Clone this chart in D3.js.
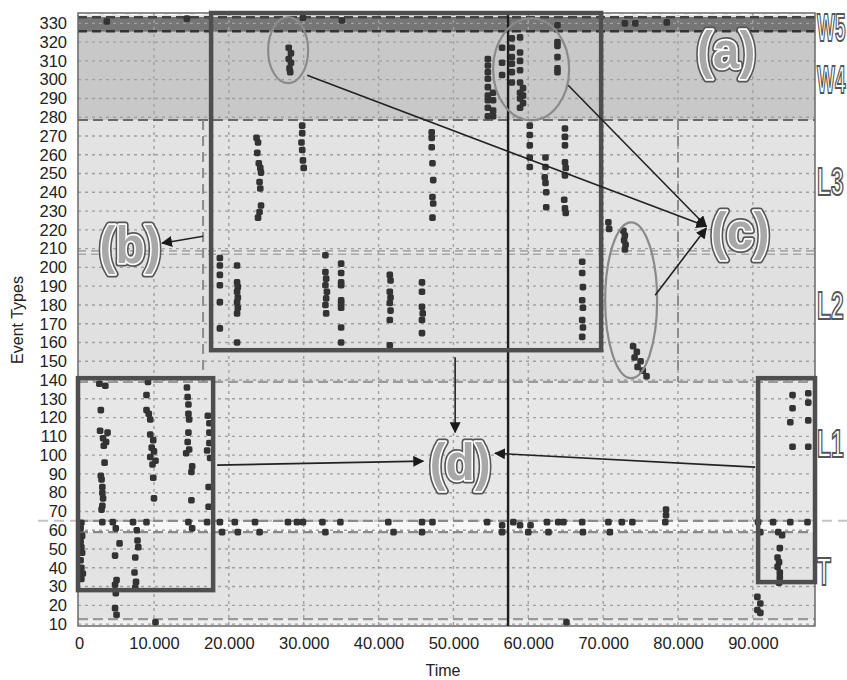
<!DOCTYPE html>
<html>
<head>
<meta charset="utf-8">
<script src="https://cdn.jsdelivr.net/npm/d3@7"></script>
<style>
  html, body { margin: 0; padding: 0; background: #ffffff; }
  svg { display: block; font-family: "Liberation Sans", Arial, sans-serif; }
</style>
</head>
<body>
<svg id="chart" width="847" height="680"></svg>
<script>
// ---- axis ticks ----
const typeTicks = d3.range(10, 331, 10);
const timeTicks = d3.range(0, 90001, 10000);

// ---- bands of event types (bottom, top, fill) ----
const bandBounds = [9, 12.7, 59, 65, 139, 208, 278.5, 325.5, 333.5, 335.5];
const bandFills  = ["#f0f0f0", "#e3e3e3", "#f7f7f7", "#e7e7e7", "#e0e0e0", "#e3e3e3", "#c8c8c8", "#767676", "#e6e6e6"];
const bandNames  = ["W5", "W4", "L3", "L2", "L1", "T"];
const bandNameLevels = [327.4, 300.2, 245.4, 179.3, 105.9, 37.7];

// ---- events: [time, event type] ----
const eventsW5 = [
  [3700, 331], [14400, 332.5], [29900, 333], [35100, 331.5], [63900, 329],
  [72900, 330], [74300, 330], [78500, 330.5]
];
const eventsW4 = [
  [28000, 317], [28300, 314], [28000, 311], [28300, 309], [28100, 306], [28200, 304],
  [54600, 311], [54600, 307.5], [54600, 304], [54600, 300.5], [54600, 296], [54600, 291.5],
  [54600, 289], [54600, 285], [54600, 280.5],
  [55300, 293], [55300, 289], [55300, 283.5], [55300, 280.5],
  [56500, 317], [56500, 309], [56500, 302.5],
  [57800, 322], [57800, 317], [57800, 312], [57800, 308.5], [57800, 304], [57800, 298.5],
  [58900, 322.5], [58900, 314.5], [58900, 310], [58900, 305], [58900, 298.5], [58900, 293],
  [58900, 290], [58900, 285],
  [59300, 295.5], [59300, 291.5], [59300, 287.5],
  [63900, 320], [63900, 318], [63900, 312], [63900, 306], [63900, 304]
];
const eventsL3 = [
  [23700, 269], [23900, 266.5], [23800, 261], [24000, 255.5], [24200, 253], [24300, 250.5],
  [24100, 245.5], [24200, 242], [24300, 233], [24100, 229.5], [23900, 226.5],
  [29800, 275.5], [29800, 271.5], [29700, 266.5], [29800, 262.5], [29900, 257], [30000, 253],
  [47100, 272], [47100, 269], [47100, 264], [47200, 255.5], [47300, 246.5], [47200, 237.5],
  [47300, 234], [47200, 226.5],
  [60200, 275.5], [60200, 270.5], [60200, 265], [60200, 258.5], [60200, 253.5],
  [62300, 258.5], [62300, 253.5], [62200, 248], [62300, 245], [62400, 240], [62400, 232],
  [64900, 274], [64900, 269.5], [64900, 265], [64900, 256], [65000, 253], [64900, 249],
  [64800, 236], [64900, 231.5], [65000, 229],
  [70700, 224], [70800, 220.5],
  [72700, 219.5], [72900, 217], [72800, 214.5], [73000, 212], [72900, 209.5]
];
const eventsL2 = [
  [18800, 205], [18800, 201], [18800, 196], [18800, 190.5], [18800, 181.5], [18800, 167.5],
  [21100, 201], [21100, 192], [21200, 189.5], [21100, 187], [21200, 184], [21100, 181.5],
  [21200, 178.5], [21100, 175.5], [21100, 160],
  [32900, 206.5], [32900, 197.5], [33000, 194], [32900, 190.5], [33100, 187], [33000, 183.5],
  [32900, 180], [33000, 175.5],
  [35000, 202], [35000, 197], [35000, 192], [35000, 190.5], [35000, 182.5], [35000, 181],
  [35000, 178.5], [35000, 168], [35000, 160],
  [41500, 196], [41600, 193], [41500, 187], [41600, 184], [41500, 181], [41600, 177],
  [41500, 172], [41500, 158.5],
  [45800, 192], [45800, 187], [45800, 179], [45900, 175.5], [45800, 172], [45800, 165],
  [67200, 203], [67200, 197], [67300, 189.5], [67200, 182.5], [67300, 178.5], [67200, 172],
  [67300, 168], [67200, 163],
  [74000, 158], [74500, 155], [74200, 152], [75000, 150], [74600, 147], [75300, 145], [75800, 142]
];
const eventsL1 = [
  [2700, 138], [3500, 137], [2900, 124], [2800, 113], [3800, 112], [3200, 109], [3600, 107],
  [3300, 105], [3400, 96], [2900, 89], [3000, 87], [3100, 83], [3100, 80], [3200, 77],
  [3100, 73], [3000, 71],
  [9200, 139], [9000, 132], [9000, 124], [9300, 122], [9500, 119], [9500, 111], [9900, 108],
  [9700, 104], [10000, 102], [9500, 99], [10200, 97], [9800, 95], [9900, 88], [10000, 77],
  [14400, 136], [14500, 131], [14600, 127], [14600, 122], [14700, 119], [14600, 112],
  [14500, 107], [14700, 103], [14300, 101], [15100, 94], [15000, 91], [15000, 76],
  [17200, 121], [17400, 117], [17400, 112], [17400, 106.5], [17100, 102.5], [17500, 98.5],
  [17300, 83], [17300, 72.5],
  [78400, 71], [78400, 68],
  [95300, 132], [95300, 125], [95000, 117.5], [97400, 133], [97400, 128], [97400, 118.5],
  [95300, 104.5], [97400, 104.5]
];
const eventsT = [
  [300, 64], [200, 61], [400, 57], [200, 54], [300, 51], [400, 48], [200, 44], [300, 40],
  [500, 37], [300, 34],
  [3100, 64.3], [4500, 64.3],
  [4900, 61], [5400, 53], [4800, 46.5], [5000, 33.5], [4800, 31], [4900, 26.5], [4800, 18.5],
  [5000, 15],
  [7200, 64.3], [7700, 60], [7800, 54.5], [7900, 51], [7500, 45.5], [7400, 37.5], [7600, 32.5],
  [7500, 29.5],
  [9000, 64.3], [10200, 11], [14600, 64.3], [15100, 61], [17100, 64.3],
  [18800, 64.3], [20800, 64.3], [23500, 64.3], [27900, 64.3], [29100, 64.3], [29900, 64.3],
  [32500, 64.3], [34900, 64.3], [41300, 64.3], [45800, 64.3], [47200, 64.3], [54500, 64.3],
  [58000, 64.3], [62500, 64.3], [64000, 64.3], [64700, 64.3], [67200, 64.3], [70700, 64.3],
  [72500, 64.3], [73900, 64.3], [78300, 64.3], [90700, 64.3], [92700, 64.3], [95000, 64.3],
  [97300, 64.3],
  [19100, 59], [21200, 59], [24100, 59], [32900, 59], [42000, 59], [45800, 59], [56500, 59],
  [60000, 59], [62700, 59], [67300, 59], [70900, 59], [91000, 59], [93400, 59],
  [56500, 62.7], [58900, 62.7], [60300, 62.7], [93900, 57.4], [65100, 11],
  [93600, 50.5], [93300, 45.5], [93500, 43], [93300, 40.5], [93600, 37.5], [93600, 35],
  [93500, 32],
  [90600, 24.5], [91000, 21], [90600, 17.5], [91000, 16]
];

// ---- annotations, in data units ----
const frameBoxes = [
  { x0: 17630, x1: 69730, y0: 155.9, y1: 335.5 },
  { x0: -150, x1: 17900, y0: 28.1, y1: 141 },
  { x0: 90700, x1: 98300, y0: 32.4, y1: 141 }
];
const ellipses = [
  { cx: 27920, cy: 315.7, rx: 2670, ry: 17.6 },
  { cx: 60380, cy: 305.5, rx: 5080, ry: 27.2 },
  { cx: 73740, cy: 182.5, rx: 3470, ry: 41.5 }
];
const arrows = [
  { from: [30460, 302.3], to: [83770, 221.9] },
  { from: [65330, 297], to: [83770, 221.9] },
  { from: [76950, 185.2], to: [83770, 220.9] },
  { from: [16570, 216.6], to: [11090, 212.9] },
  { from: [50230, 152.2], to: [50230, 112.2] },
  { from: [18440, 94.7], to: [45960, 96.8] },
  { from: [90310, 93.6], to: [55570, 101] }
];
const tags = [
  { text: "(a)", t: 86430, v: 315.7 },
  { text: "(b)", t: 6810, v: 211.8 },
  { text: "(c)", t: 88300, v: 219.3 },
  { text: "(d)", t: 50900, v: 96.3 }
];
const markerTime = 57300;
const dashedSplits = [16560, 80000];

// ---- scales ----
const svg = d3.select("#chart");
const x = d3.scaleLinear().domain([-150, 98300]).range([78, 815]);
const y = d3.scaleLinear().domain([9, 335.5]).range([626, 13]);
const [xL, xR] = x.range();

// band backgrounds
svg.append("g").selectAll("rect")
  .data(bandFills)
  .join("rect")
  .attr("x", xL)
  .attr("width", xR - xL)
  .attr("y", (d, i) => y(bandBounds[i + 1]))
  .attr("height", (d, i) => y(bandBounds[i]) - y(bandBounds[i + 1]))
  .attr("fill", d => d);

// dotted grid
const grid = svg.append("g").attr("stroke", "#a0a0a0").attr("stroke-width", 1.4)
  .attr("stroke-dasharray", "3,4");
grid.selectAll("line.h").data(typeTicks).join("line")
  .attr("class", "h")
  .attr("x1", xL).attr("x2", xR)
  .attr("y1", d => y(d)).attr("y2", d => y(d));
grid.selectAll("line.v").data(timeTicks.slice(1)).join("line")
  .attr("class", "v")
  .attr("x1", d => x(d)).attr("x2", d => x(d))
  .attr("y1", y(335.5)).attr("y2", y(9));

// band boundaries
const bnd = svg.append("g").attr("fill", "none");
bnd.append("line").attr("x1", 38).attr("x2", 847).attr("y1", y(65)).attr("y2", y(65))
  .attr("stroke", "#c4c4c4").attr("stroke-width", 2).attr("stroke-dasharray", "10,6");
[[65, "#8a8a8a"], [59, "#8a8a8a"], [12.7, "#9a9a9a"], [278.5, "#6a6a6a"], [139, "#9a9a9a"]]
  .forEach(([v, c]) => {
    bnd.append("line").attr("x1", xL).attr("x2", xR).attr("y1", y(v)).attr("y2", y(v))
      .attr("stroke", c).attr("stroke-width", 2.2).attr("stroke-dasharray", "10,5");
  });
[208.8, 207].forEach(v => {
  bnd.append("line").attr("x1", xL).attr("x2", xR).attr("y1", y(v)).attr("y2", y(v))
    .attr("stroke", "#a8a8a8").attr("stroke-width", 1.6).attr("stroke-dasharray", "8,5");
});
[[325.8, "#333333"], [333.2, "#444444"]].forEach(([v, c]) => {
  bnd.append("line").attr("x1", xL).attr("x2", xR).attr("y1", y(v)).attr("y2", y(v))
    .attr("stroke", c).attr("stroke-width", 2.4).attr("stroke-dasharray", "9,5");
});
bnd.append("line").attr("x1", xL).attr("x2", xR).attr("y1", y(334.8)).attr("y2", y(334.8))
  .attr("stroke", "#ffffff").attr("stroke-width", 1.5).attr("stroke-dasharray", "8,5");
bnd.selectAll("line.split").data(dashedSplits).join("line")
  .attr("class", "split")
  .attr("x1", d => x(d)).attr("x2", d => x(d))
  .attr("y1", y(278.5)).attr("y2", y(139))
  .attr("stroke", "#8c8c8c").attr("stroke-width", 2).attr("stroke-dasharray", "10,6");

// plot frame
svg.append("rect").attr("x", xL).attr("y", y(335.5))
  .attr("width", xR - xL).attr("height", y(9) - y(335.5))
  .attr("fill", "none").attr("stroke", "#6a6a6a").attr("stroke-width", 1.5);

// events
const allEvents = [eventsW5, eventsW4, eventsL3, eventsL2, eventsL1, eventsT];
svg.append("g").selectAll("g").data(allEvents).join("g")
  .selectAll("rect").data(d => d).join("rect")
  .attr("x", d => x(d[0]) - 3.3).attr("y", d => y(d[1]) - 3.3)
  .attr("width", 6.6).attr("height", 6.6).attr("rx", 1.8)
  .attr("fill", "#333333");

// time marker
svg.append("line").attr("x1", x(markerTime)).attr("x2", x(markerTime))
  .attr("y1", y(335.5)).attr("y2", y(9))
  .attr("stroke", "#1e1e1e").attr("stroke-width", 2.4);

// frame boxes
svg.append("g").selectAll("rect").data(frameBoxes).join("rect")
  .attr("x", d => x(d.x0)).attr("y", d => y(d.y1))
  .attr("width", d => x(d.x1) - x(d.x0)).attr("height", d => y(d.y0) - y(d.y1))
  .attr("fill", "none").attr("stroke", "#4e4e4e").attr("stroke-width", 4.5);

// ellipses
svg.append("g").selectAll("ellipse").data(ellipses).join("ellipse")
  .attr("cx", d => x(d.cx)).attr("cy", d => y(d.cy))
  .attr("rx", d => x(d.cx + d.rx) - x(d.cx)).attr("ry", d => y(d.cy - d.ry) - y(d.cy))
  .attr("fill", "none").attr("stroke", "#8a8a8a").attr("stroke-width", 2.2);

// arrows
svg.append("defs").append("marker")
  .attr("id", "head").attr("viewBox", "0 0 10 10").attr("refX", 9).attr("refY", 5)
  .attr("markerWidth", 11).attr("markerHeight", 11).attr("orient", "auto")
  .attr("markerUnits", "userSpaceOnUse")
  .append("path").attr("d", "M0,0 L10,5 L0,10 Z").attr("fill", "#1a1a1a");
svg.append("g").selectAll("line").data(arrows).join("line")
  .attr("x1", d => x(d.from[0])).attr("y1", d => y(d.from[1]))
  .attr("x2", d => x(d.to[0])).attr("y2", d => y(d.to[1]))
  .attr("stroke", "#222").attr("stroke-width", 1.6)
  .attr("marker-end", "url(#head)");

// outlined tag letters
const tagG = svg.append("g").attr("font-size", 52).attr("font-weight", "bold")
  .attr("text-anchor", "middle").attr("dominant-baseline", "central");
[["#555", 7, "none"], ["#ffffff", 3.5, "none"], ["none", 0, "#a8a8a8"]].forEach(([s, w, f]) => {
  tagG.append("g").selectAll("text").data(tags).join("text")
    .attr("transform", d => `translate(${x(d.t)},${y(d.v)}) scale(0.92,1)`)
    .attr("fill", f).attr("stroke", s).attr("stroke-width", w)
    .attr("stroke-linejoin", "round")
    .text(d => d.text);
});

// band names on the right, squeezed to fit the margin
svg.append("g").selectAll("text").data(bandNames).join("text")
  .attr("transform", (d, i) =>
    `translate(${xR + 2},${y(bandNameLevels[i])}) scale(${d.startsWith("W") ? 0.5 : 0.6},1)`)
  .attr("dominant-baseline", "central")
  .attr("font-size", 38).attr("font-weight", "bold")
  .attr("fill", "#ffffff").attr("stroke", "#555").attr("stroke-width", 2)
  .text(d => d);

// axes
const yAxis = svg.append("g").attr("transform", `translate(${xL},0)`)
  .call(d3.axisLeft(y).tickValues(typeTicks).tickSize(0).tickPadding(11));
const xAxis = svg.append("g").attr("transform", `translate(0,${y(9)})`)
  .call(d3.axisBottom(x).tickValues(timeTicks).tickSize(0).tickPadding(11)
    .tickFormat(d => d3.format(",")(d).replace(/,/g, ".")));
[yAxis, xAxis].forEach(g => {
  g.select(".domain").remove();
  g.selectAll("text").attr("font-size", 16.5).attr("fill", "#222")
    .attr("font-family", "'Liberation Sans', Arial, sans-serif");
});

svg.append("text").attr("x", 443).attr("y", 670).attr("text-anchor", "middle")
  .attr("dominant-baseline", "central").attr("font-size", 16).attr("fill", "#222")
  .text("Time");
svg.append("text").attr("transform", "translate(17,320) rotate(-90)")
  .attr("text-anchor", "middle").attr("dominant-baseline", "central")
  .attr("font-size", 16).attr("fill", "#222")
  .text("Event Types");
</script>
</body>
</html>
